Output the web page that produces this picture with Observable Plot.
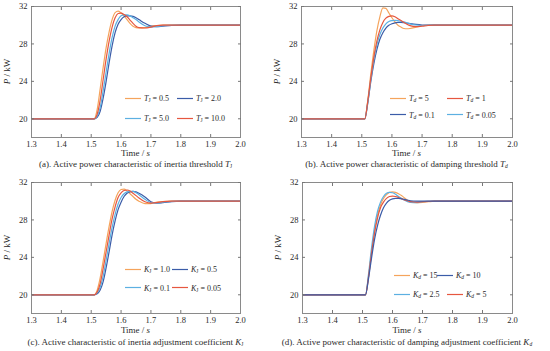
<!DOCTYPE html>
<html><head><meta charset="utf-8">
<script src="https://cdn.jsdelivr.net/npm/d3@7"></script>
<script src="https://cdn.jsdelivr.net/npm/@observablehq/plot@0.6"></script>
<style>
body{margin:0;background:#fff;}
#root{position:relative;width:550px;height:351px;overflow:hidden;font-family:"Liberation Serif",serif;color:#2a2a2a;}
.cell{position:absolute;width:275px;height:175px;}
.cell svg{position:absolute;left:0;top:0;overflow:visible;}
.cap{position:absolute;white-space:nowrap;transform:translate(-50%,-50%);font-size:9px;line-height:10px;}
.leg{position:absolute;font-size:8px;line-height:9px;white-space:nowrap;display:flex;align-items:center;transform:translateY(-50%);}
.leg span{margin-left:3px;}
sub{font-size:5.5px;vertical-align:-1px;line-height:0;}
</style></head>
<body><div id="root"></div>
<script>
// time grid (s)
const T = [1.3,1.51,1.52,1.53,1.54,1.55,1.56,1.57,1.58,1.59,1.60,1.61,1.62,1.63,1.64,1.65,1.66,1.68,1.70,1.72,1.74,1.77,1.80,2.0];
const xTicks = [1.3,1.4,1.5,1.6,1.7,1.8,1.9,2.0];
const yTicks = [20,24,28,32];

// (a) inertia threshold T_J
const aLabels = ["0.5","2.0","5.0","10.0"];
const aOrange = [20,20,21.0,23.2,25.5,27.6,29.3,30.6,31.35,31.5,31.3,31.0,30.6,30.2,29.9,29.75,29.7,29.75,29.9,29.97,30,30,30,30];
const aDark   = [20,20,20.15,20.8,22.2,24.0,26.0,27.8,29.2,30.1,30.6,30.9,31.0,31.0,30.95,30.8,30.6,30.2,29.9,29.85,29.9,29.97,30,30];
const aLight  = [20,20,20.3,21.2,23.0,25.0,27.0,28.7,29.9,30.6,31.0,31.1,31.1,31.0,30.8,30.6,30.35,29.95,29.8,29.85,29.95,30,30,30];
const aRed    = [20,20,20.5,22.0,24.2,26.4,28.3,29.8,30.8,31.25,31.3,31.15,30.9,30.55,30.2,29.9,29.75,29.7,29.8,29.95,30,30,30,30];

// (b) damping threshold T_d
const bLabels = ["5","1","0.1","0.05"];
const bOrange = [20,20,22.0,24.8,27.3,29.4,30.9,31.85,31.8,31.3,30.8,30.35,30.0,29.8,29.65,29.62,29.65,29.8,29.95,30.02,30.02,30,30,30];
const bRed    = [20,20,21.9,24.4,26.6,28.3,29.5,30.3,30.75,30.95,31.0,30.9,30.7,30.5,30.3,30.1,29.95,29.85,29.9,29.97,30,30,30,30];
const bDark   = [20,20,21.7,24.0,25.9,27.4,28.5,29.2,29.7,30.0,30.15,30.25,30.3,30.3,30.27,30.22,30.17,30.08,30.02,30.0,30,30,30,30];
const bLight  = [20,20,21.8,24.2,26.3,27.9,29.0,29.7,30.15,30.4,30.5,30.52,30.5,30.42,30.35,30.25,30.15,30.02,29.97,29.97,30,30,30,30];

// (c) inertia adjustment coefficient K_J
const cLabels = ["1.0","0.5","0.1","0.05"];
const cOrange = [20,20,20.5,21.8,23.6,25.5,27.3,28.9,30.1,30.9,31.25,31.3,31.1,30.8,30.5,30.2,30.0,29.75,29.75,29.9,29.97,30,30,30];
const cDark   = [20,20,20.1,20.5,21.4,22.9,24.6,26.4,27.9,29.1,29.9,30.5,30.85,31.0,31.05,31.0,30.85,30.45,29.95,29.8,29.85,29.95,30,30];
const cLight  = [20,20,20.2,20.8,22.0,23.7,25.5,27.2,28.6,29.7,30.4,30.8,31.0,31.05,31.05,30.9,30.7,30.2,29.85,29.8,29.9,29.98,30,30];
const cRed    = [20,20,20.3,21.2,22.8,24.6,26.4,28.1,29.4,30.4,30.9,31.15,31.2,31.1,30.85,30.6,30.35,29.95,29.8,29.85,29.95,30,30,30];

// (d) damping adjustment coefficient K_d
const dLabels = ["15","10","2.5","5"];
const dOrange = [20,20,21.9,24.5,26.8,28.5,29.6,30.3,30.7,30.95,31.0,30.95,30.8,30.6,30.35,30.1,29.95,29.85,29.88,29.95,30,30,30,30];
const dDark   = [20,20,21.7,23.9,25.9,27.4,28.5,29.3,29.8,30.1,30.25,30.3,30.3,30.25,30.2,30.12,30.05,30.0,30.0,30,30,30,30,30];
const dLight  = [20,20,22.2,25.0,27.3,28.9,29.9,30.5,30.85,30.95,30.9,30.75,30.5,30.3,30.1,29.95,29.87,29.85,29.95,29.98,30,30,30,30];
const dRed    = [20,20,21.9,24.4,26.6,28.2,29.3,29.9,30.3,30.5,30.55,30.5,30.4,30.28,30.15,30.05,29.95,29.9,29.95,29.98,30,30,30,30];

const C = {orange:"#f5a45c", dark:"#3b5ca8", light:"#5cb0e2", red:"#e6573f"};

const root = document.getElementById("root");

function panel(cfg){
  const cell = document.createElement("div");
  cell.className = "cell";
  cell.style.left = cfg.cx + "px"; cell.style.top = cfg.cy + "px";
  root.appendChild(cell);
  const ph = 131, H = 160;
  const mb = H - cfg.mt - ph;
  const lines = cfg.series.map(s => Plot.line(T.map((t,i)=>({t, p:s.v[i]})), {x:"t", y:"p", stroke:s.c, strokeWidth:1.2, curve:"monotone-x"}));
  const blank = () => "";
  const svg = Plot.plot({
    width: 275, height: H,
    marginLeft: cfg.ml, marginRight: cfg.mr, marginTop: cfg.mt, marginBottom: mb,
    x: {domain:[1.3,2.0]},
    y: {domain:[18,32]},
    style: {fontFamily:"Liberation Serif", fontSize:"8.5px", color:"#2a2a2a", background:"transparent", overflow:"visible"},
    marks: [
      ...lines,
      Plot.frame({stroke:"#8a8a8a", strokeWidth:1}),
      Plot.axisX({anchor:"bottom", ticks:xTicks, tickFormat:d3.format(".1f"), tickSize:0, tickPadding:3, label:null}),
      Plot.axisX({anchor:"bottom", ticks:xTicks.slice(1,-1), tickFormat:blank, tickSize:-3, stroke:"#777", label:null}),
      Plot.axisX({anchor:"top", ticks:xTicks.slice(1,-1), tickFormat:blank, tickSize:-3, stroke:"#777", label:null}),
      Plot.axisY({anchor:"left", ticks:yTicks, tickFormat:d3.format("d"), tickSize:0, tickPadding:4, label:null}),
      Plot.axisY({anchor:"left", ticks:yTicks, tickFormat:blank, tickSize:-3, stroke:"#777", label:null}),
      Plot.axisY({anchor:"right", ticks:yTicks, tickFormat:blank, tickSize:-3, stroke:"#777", label:null})
    ]
  });
  cell.appendChild(svg);
  const s = d3.select(svg);
  const cxFrame = cfg.ml + (275 - cfg.ml - cfg.mr)/2;
  // x label
  const xl = s.append("text").attr("x", cxFrame).attr("y", cfg.mt + ph + cfg.xlabDy)
    .attr("text-anchor","middle").attr("dominant-baseline","middle")
    .attr("font-family","Liberation Serif").attr("font-size",9).attr("fill","#2a2a2a");
  xl.append("tspan").text("Time / ");
  xl.append("tspan").attr("font-style","italic").text("s");
  // y label
  const yl = s.append("text")
    .attr("transform", `translate(${cfg.ml-23},${cfg.mt+ph/2}) rotate(-90)`)
    .attr("text-anchor","middle").attr("dominant-baseline","middle")
    .attr("font-family","Liberation Serif").attr("font-size",9).attr("fill","#2a2a2a");
  yl.append("tspan").attr("font-style","italic").text("P");
  yl.append("tspan").text(" / kW");
  // caption
  const cap = document.createElement("div");
  cap.className = "cap";
  cap.style.left = cxFrame + "px"; cap.style.top = (cfg.mt + ph + cfg.capDy) + "px";
  cap.innerHTML = cfg.caption;
  cell.appendChild(cap);
  // legend
  cfg.legend.forEach(e => {
    const d = document.createElement("div");
    d.className = "leg";
    d.style.left = e.x + "px"; d.style.top = e.y + "px";
    d.innerHTML = `<svg width="16" height="4" style="position:static"><line x1="0" y1="2" x2="16" y2="2" stroke="${e.c}" stroke-width="1.2"/></svg><span>${cfg.sym} = ${e.t}</span>`;
    cell.appendChild(d);
  });
}

const symJ = (L) => `<i>${L}</i><sub>J</sub>`;
const symD = (L) => `<i>${L}<sub>d</sub></i>`;

panel({cx:0, cy:0, ml:31, mr:35, mt:6, xlabDy:17, capDy:27,
  series:[{v:aOrange,c:C.orange},{v:aDark,c:C.dark},{v:aLight,c:C.light},{v:aRed,c:C.red}],
  sym: symJ("T"),
  caption: `(a). Active power characteristic of inertia threshold ${symJ("T")}`,
  legend:[{x:125,y:98,t:aLabels[0],c:C.orange},{x:177,y:98,t:aLabels[1],c:C.dark},{x:125,y:118,t:aLabels[2],c:C.light},{x:177,y:118,t:aLabels[3],c:C.red}]
});
panel({cx:275, cy:0, ml:26, mr:38, mt:6, xlabDy:17, capDy:27,
  series:[{v:bOrange,c:C.orange},{v:bDark,c:C.dark},{v:bLight,c:C.light},{v:bRed,c:C.red}],
  sym: symD("T"),
  caption: `(b). Active power characteristic of damping threshold ${symD("T")}`,
  legend:[{x:115,y:98,t:bLabels[0],c:C.orange},{x:172,y:98,t:bLabels[1],c:C.red},{x:115,y:114.5,t:bLabels[2],c:C.dark},{x:172,y:114.5,t:bLabels[3],c:C.light}]
});
panel({cx:0, cy:175, ml:31, mr:35, mt:7, xlabDy:18, capDy:28.5,
  series:[{v:cOrange,c:C.orange},{v:cDark,c:C.dark},{v:cLight,c:C.light},{v:cRed,c:C.red}],
  sym: symJ("K"),
  caption: `(c). Active characteristic of inertia adjustment coefficient ${symJ("K")}`,
  legend:[{x:125,y:94,t:cLabels[0],c:C.orange},{x:172,y:94,t:cLabels[1],c:C.dark},{x:125,y:112.7,t:cLabels[2],c:C.light},{x:172,y:112.7,t:cLabels[3],c:C.red}]
});
panel({cx:275, cy:175, ml:27, mr:38, mt:7, xlabDy:18, capDy:28.5,
  series:[{v:dOrange,c:C.orange},{v:dLight,c:C.light},{v:dRed,c:C.red},{v:dDark,c:C.dark}],
  sym: symD("K"),
  caption: `(d). Active power characteristic of damping adjustment coefficient ${symD("K")}`,
  legend:[{x:119,y:100,t:dLabels[0],c:C.orange},{x:162,y:100,t:dLabels[1],c:C.dark},{x:119,y:119,t:dLabels[2],c:C.light},{x:172,y:119,t:dLabels[3],c:C.red}]
});
</script>
</body></html>
